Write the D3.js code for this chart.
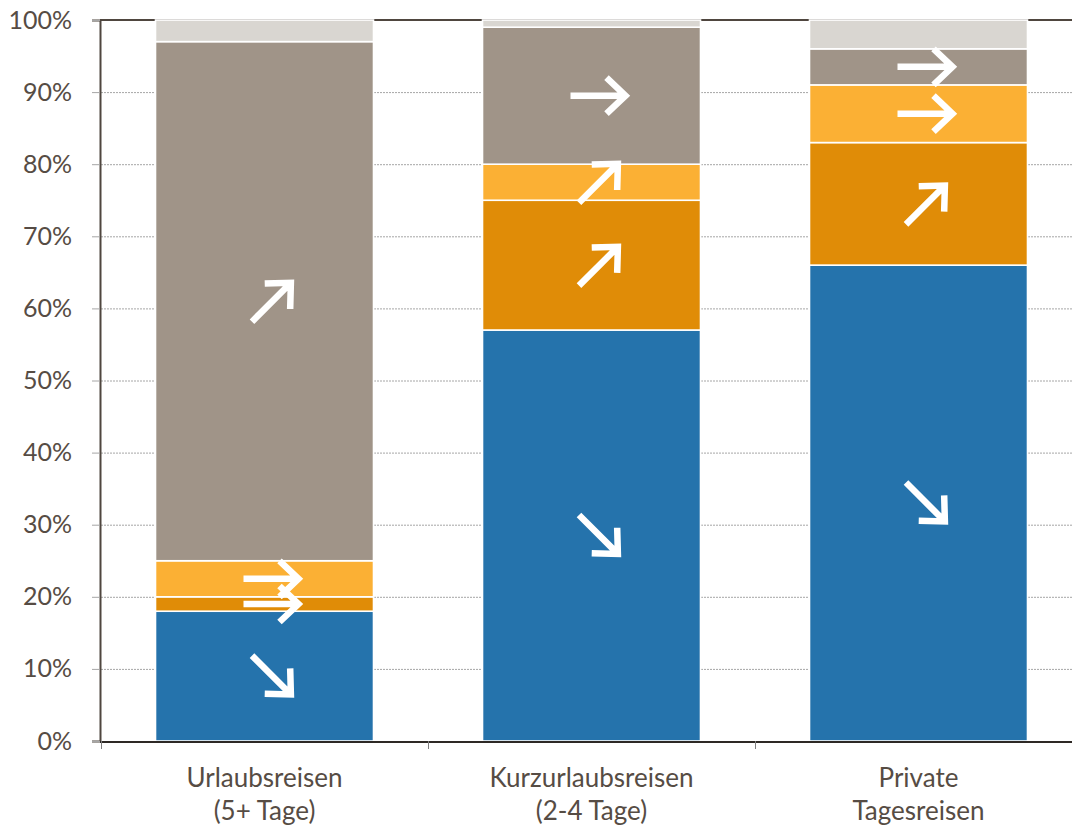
<!DOCTYPE html>
<html>
<head>
<meta charset="utf-8">
<script src="https://cdn.jsdelivr.net/npm/d3@7"></script>
<style>
  html, body { margin: 0; padding: 0; background: #fff; }
  svg { display: block; }
  text { font-family: Lato, "Open Sans", sans-serif; fill: #564c44; }
</style>
</head>
<body>
<svg id="chart" width="1072" height="830"></svg>
<script>
// Trip types (two-line category labels)
const categories = [
  ["Urlaubsreisen", "(5+ Tage)"],
  ["Kurzurlaubsreisen", "(2-4 Tage)"],
  ["Private", "Tagesreisen"]
];

// Stacked shares (percent) from bottom to top
const seriesBlue        = [18, 57, 66];
const seriesDarkOrange  = [2, 18, 17];
const seriesLightOrange = [5, 5, 8];
const seriesTaupe       = [72, 19, 5];
const seriesGray        = [3, 1, 4];

// Trend per segment: "down", "flat", "up", null = no arrow
const trendBlue        = ["down", "down", "down"];
const trendDarkOrange  = ["flat", "up", "up"];
const trendLightOrange = ["flat", "up", "flat"];
const trendTaupe       = ["up", "flat", "flat"];
const trendGray        = [null, null, null];

const yTicks = [0, 10, 20, 30, 40, 50, 60, 70, 80, 90, 100];

const series = [
  { values: seriesBlue, trend: trendBlue, color: "#2573ac" },
  { values: seriesDarkOrange, trend: trendDarkOrange, color: "#e08c07" },
  { values: seriesLightOrange, trend: trendLightOrange, color: "#fbb034" },
  { values: seriesTaupe, trend: trendTaupe, color: "#a09488" },
  { values: seriesGray, trend: trendGray, color: "#d9d6d1" }
];

const svg = d3.select("#chart");
const plotLeft = 101, plotTop = 20, plotBottom = 741;
const step = 327;

const x = d3.scaleBand()
  .domain(d3.range(categories.length))
  .range([plotLeft, plotLeft + step * categories.length])
  .paddingInner(1 / 3)
  .paddingOuter(1 / 6);

const y = d3.scaleLinear().domain([0, 100]).range([plotBottom, plotTop]);

// Gridlines (dotted)
svg.append("g")
  .selectAll("line")
  .data(yTicks.filter(d => d > 0 && d < 100))
  .join("line")
  .attr("x1", plotLeft).attr("x2", 1072)
  .attr("y1", d => y(d) + 0.5).attr("y2", d => y(d) + 0.5)
  .attr("stroke", "#a6a6a6")
  .attr("stroke-width", 1)
  .attr("stroke-dasharray", "2,1");

// Frame: top line
svg.append("line")
  .attr("x1", plotLeft - 1).attr("x2", 1072)
  .attr("y1", plotTop).attr("y2", plotTop)
  .attr("stroke", "#4f463f").attr("stroke-width", 2);

// Y axis
const yAxis = svg.append("g")
  .attr("transform", `translate(${plotLeft - 1},0)`)
  .call(d3.axisLeft(y).tickValues(yTicks).tickSize(8).tickPadding(20)
    .tickFormat(d => d + "%"));
yAxis.select(".domain").attr("stroke", "#4f463f").attr("stroke-width", 2);
yAxis.selectAll(".tick line").attr("stroke", "#a6a6a6");
yAxis.selectAll(".tick text")
  .attr("font-size", 25)
  .attr("fill", "#564c44")
  .style("font-family", "Lato, 'Open Sans', sans-serif");

// Stacked bars
const stackData = categories.map((c, i) => {
  let base = 0;
  return series.map(s => {
    const seg = { i, y0: base, y1: base + s.values[i], color: s.color, trend: s.trend[i] };
    base += s.values[i];
    return seg;
  });
}).flat();

svg.append("g")
  .selectAll("rect")
  .data(stackData)
  .join("rect")
  .attr("x", d => x(d.i))
  .attr("width", x.bandwidth())
  .attr("y", d => y(d.y1))
  .attr("height", d => y(d.y0) - y(d.y1))
  .attr("fill", d => d.color)
  .attr("stroke", "#ffffff")
  .attr("stroke-width", 1.6);

// Bottom baseline
svg.append("line")
  .attr("x1", plotLeft - 1).attr("x2", 1072)
  .attr("y1", plotBottom + 1).attr("y2", plotBottom + 1)
  .attr("stroke", "#2e2925").attr("stroke-width", 2);

// Category ticks on the baseline
svg.append("g")
  .selectAll("line")
  .data(d3.range(categories.length))
  .join("line")
  .attr("x1", d => plotLeft + d * step + 0.5).attr("x2", d => plotLeft + d * step + 0.5)
  .attr("y1", plotBottom).attr("y2", plotBottom + 8)
  .attr("stroke", "#7f7f7f");

// Category labels
const catLabels = svg.append("g")
  .selectAll("text")
  .data(categories)
  .join("text")
  .attr("text-anchor", "middle")
  .attr("font-size", 26)
  .attr("x", (d, i) => x(i) + x.bandwidth() / 2)
  .attr("y", 787);
catLabels.selectAll("tspan")
  .data(d => d)
  .join("tspan")
  .attr("x", function () { return d3.select(this.parentNode).attr("x"); })
  .attr("dy", (d, j) => j === 0 ? 0 : 33)
  .text(d => d);

// Trend arrows (white, drawn in each segment)
const angle = { up: -45, flat: 0, down: 45 };
const arrowPath = "M-29,0 L26,0 M7,-18 L26,0 L7,18";
svg.append("g")
  .selectAll("path")
  .data(stackData.filter(d => d.trend))
  .join("path")
  .attr("d", arrowPath)
  .attr("transform", d =>
    `translate(${x(d.i) + x.bandwidth() / 2 + 8},${y((d.y0 + d.y1) / 2)}) rotate(${angle[d.trend]})`)
  .attr("fill", "none")
  .attr("stroke", "#ffffff")
  .attr("stroke-width", 6.5)
  .attr("stroke-linejoin", "miter")
  .attr("stroke-miterlimit", 10);
</script>
</body>
</html>
